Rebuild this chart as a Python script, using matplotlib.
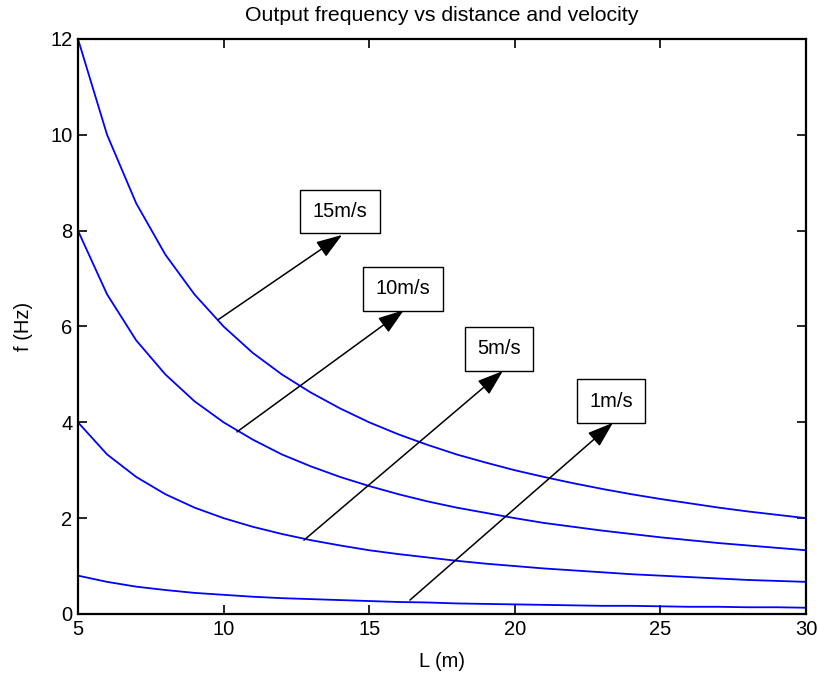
import numpy as np
import matplotlib
matplotlib.use("Agg")
import matplotlib.pyplot as plt

plt.rcParams['font.family'] = ['Liberation Sans', 'DejaVu Sans']

# distance L (m)
L = [5, 6, 7, 8, 9, 10, 11, 12, 13, 14, 15, 16, 17, 18, 19, 20,
     21, 22, 23, 24, 25, 26, 27, 28, 29, 30]

# output frequency (Hz)
f_15 = [12.0, 10.0, 8.57, 7.5, 6.67, 6.0, 5.45, 5.0, 4.62, 4.29, 4.0, 3.75, 3.53,
        3.33, 3.16, 3.0, 2.86, 2.73, 2.61, 2.5, 2.4, 2.31, 2.22, 2.14, 2.07, 2.0]
f_10 = [8.0, 6.67, 5.71, 5.0, 4.44, 4.0, 3.64, 3.33, 3.08, 2.86, 2.67, 2.5, 2.35,
        2.22, 2.11, 2.0, 1.9, 1.82, 1.74, 1.67, 1.6, 1.54, 1.48, 1.43, 1.38, 1.33]
f_5 = [4.0, 3.33, 2.86, 2.5, 2.22, 2.0, 1.82, 1.67, 1.54, 1.43, 1.33, 1.25, 1.18,
       1.11, 1.05, 1.0, 0.95, 0.91, 0.87, 0.83, 0.8, 0.77, 0.74, 0.71, 0.69, 0.67]
f_1 = [0.8, 0.67, 0.57, 0.5, 0.44, 0.4, 0.36, 0.33, 0.31, 0.29, 0.27, 0.25, 0.24,
       0.22, 0.21, 0.2, 0.19, 0.18, 0.17, 0.17, 0.16, 0.15, 0.15, 0.14, 0.14, 0.13]

labels = ['15m/s', '10m/s', '5m/s', '1m/s']
# arrow tail, arrow head, label box centre (data coords)
tails = [(9.81, 6.14), (10.46, 3.80), (12.76, 1.54), (16.40, 0.29)]
heads = [(14.07, 7.91), (16.19, 6.34), (19.59, 5.07), (23.37, 3.99)]
boxes = [(14.0, 8.40), (16.16, 6.79), (19.46, 5.54), (23.30, 4.44)]

fig = plt.figure(figsize=(8.19, 6.77), dpi=100)
ax = fig.add_axes([0.0952, 0.0931, 0.8889, 0.8493])

for f in (f_15, f_10, f_5, f_1):
    ax.plot(L, f, color='#0000ff', lw=1.3)

for lab, t, h, b in zip(labels, tails, heads, boxes):
    ax.annotate('', xy=h, xytext=t,
                arrowprops=dict(arrowstyle='-|>,head_length=1.6,head_width=0.55',
                                color='black', lw=1.1, shrinkA=0, shrinkB=0))
    ax.text(b[0], b[1], lab, ha='center', va='center', fontsize=14.5,
            bbox=dict(boxstyle='square,pad=0.62', fc='white', ec='black', lw=1.0))

ax.set_xlim(5, 30)
ax.set_ylim(0, 12)
ax.set_xticks([5, 10, 15, 20, 25, 30])
ax.set_yticks([0, 2, 4, 6, 8, 10, 12])
ax.tick_params(direction='in', top=True, right=True, labelsize=14.5,
               length=6.5, width=1.2, pad=4)
for s in ax.spines.values():
    s.set_linewidth(1.6)
ax.set_xlabel('L (m)', fontsize=14.5, va='center')
ax.xaxis.set_label_coords(0.5, -0.082)
ax.set_ylabel('f (Hz)', fontsize=14.5, va='center')
ax.yaxis.set_label_coords(-0.0755, 0.5)
ax.set_title('Output frequency vs distance and velocity', fontsize=15.3,
             y=1.031, va='baseline', pad=0)

fig.savefig('out.png', dpi=100)
